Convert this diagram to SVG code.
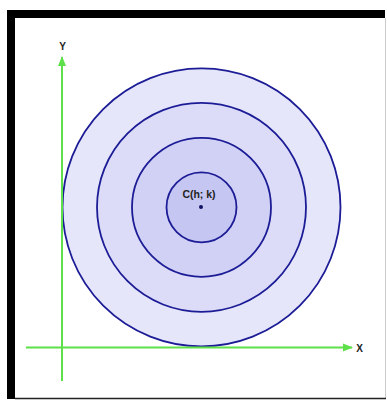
<svg xmlns="http://www.w3.org/2000/svg" width="387" height="401" viewBox="0 0 387 401">
  <style>
    .ring { stroke: #1c1c96; stroke-width: 1.8; }
    .axis { stroke: #5ee04a; stroke-width: 2; fill: none; }
    .lbl { font-family: "Liberation Sans", Arial, sans-serif; font-weight: bold; fill: #222; text-anchor: middle; }
  </style>
  <defs>
    <marker id="arr" viewBox="0 0 10 10" refX="9" refY="5" markerWidth="5" markerHeight="5" orient="auto" markerUnits="strokeWidth">
      <path d="M0,1 L10,5 L0,9 z" fill="#5ee04a"/>
    </marker>
  </defs>
  <rect x="0" y="0" width="387" height="401" fill="#ffffff"/>
  <g id="frame">
    <rect x="7" y="10" width="8" height="389" fill="#000"/>
    <rect x="7" y="10" width="378" height="8" fill="#000"/>
    <line x1="385.5" y1="18" x2="385.5" y2="399" stroke="#cccccc" stroke-width="1"/>
    <line x1="15" y1="398.5" x2="386" y2="398.5" stroke="#222" stroke-width="1.5"/>
  </g>
  <g id="circles">
    <circle id="c4" cx="201.5" cy="207.3" r="139" fill="#e6e6fb" class="ring"/>
    <circle id="c3" cx="201.5" cy="207.3" r="104.5" fill="#dcdcf8" class="ring"/>
    <circle id="c2" cx="201.5" cy="207.3" r="69.5" fill="#d1d1f6" class="ring"/>
    <circle id="c1" cx="201.5" cy="207.3" r="35" fill="#c6c6f3" class="ring"/>
  </g>
  <g id="connectors">
    <line class="axis" x1="62" y1="381" x2="62" y2="57" marker-end="url(#arr)"/>
    <line class="axis" x1="26" y1="347.5" x2="352" y2="347.5" marker-end="url(#arr)"/>
  </g>
  <g id="center">
    <circle cx="201" cy="207" r="2" fill="#111166"/>
    <text class="lbl" x="199" y="198" font-size="10.5">C(h; k)</text>
  </g>
  <g id="labels">
    <text class="lbl" x="62.5" y="50" font-size="10">Y</text>
    <text class="lbl" x="359.5" y="352" font-size="10">X</text>
  </g>
</svg>
